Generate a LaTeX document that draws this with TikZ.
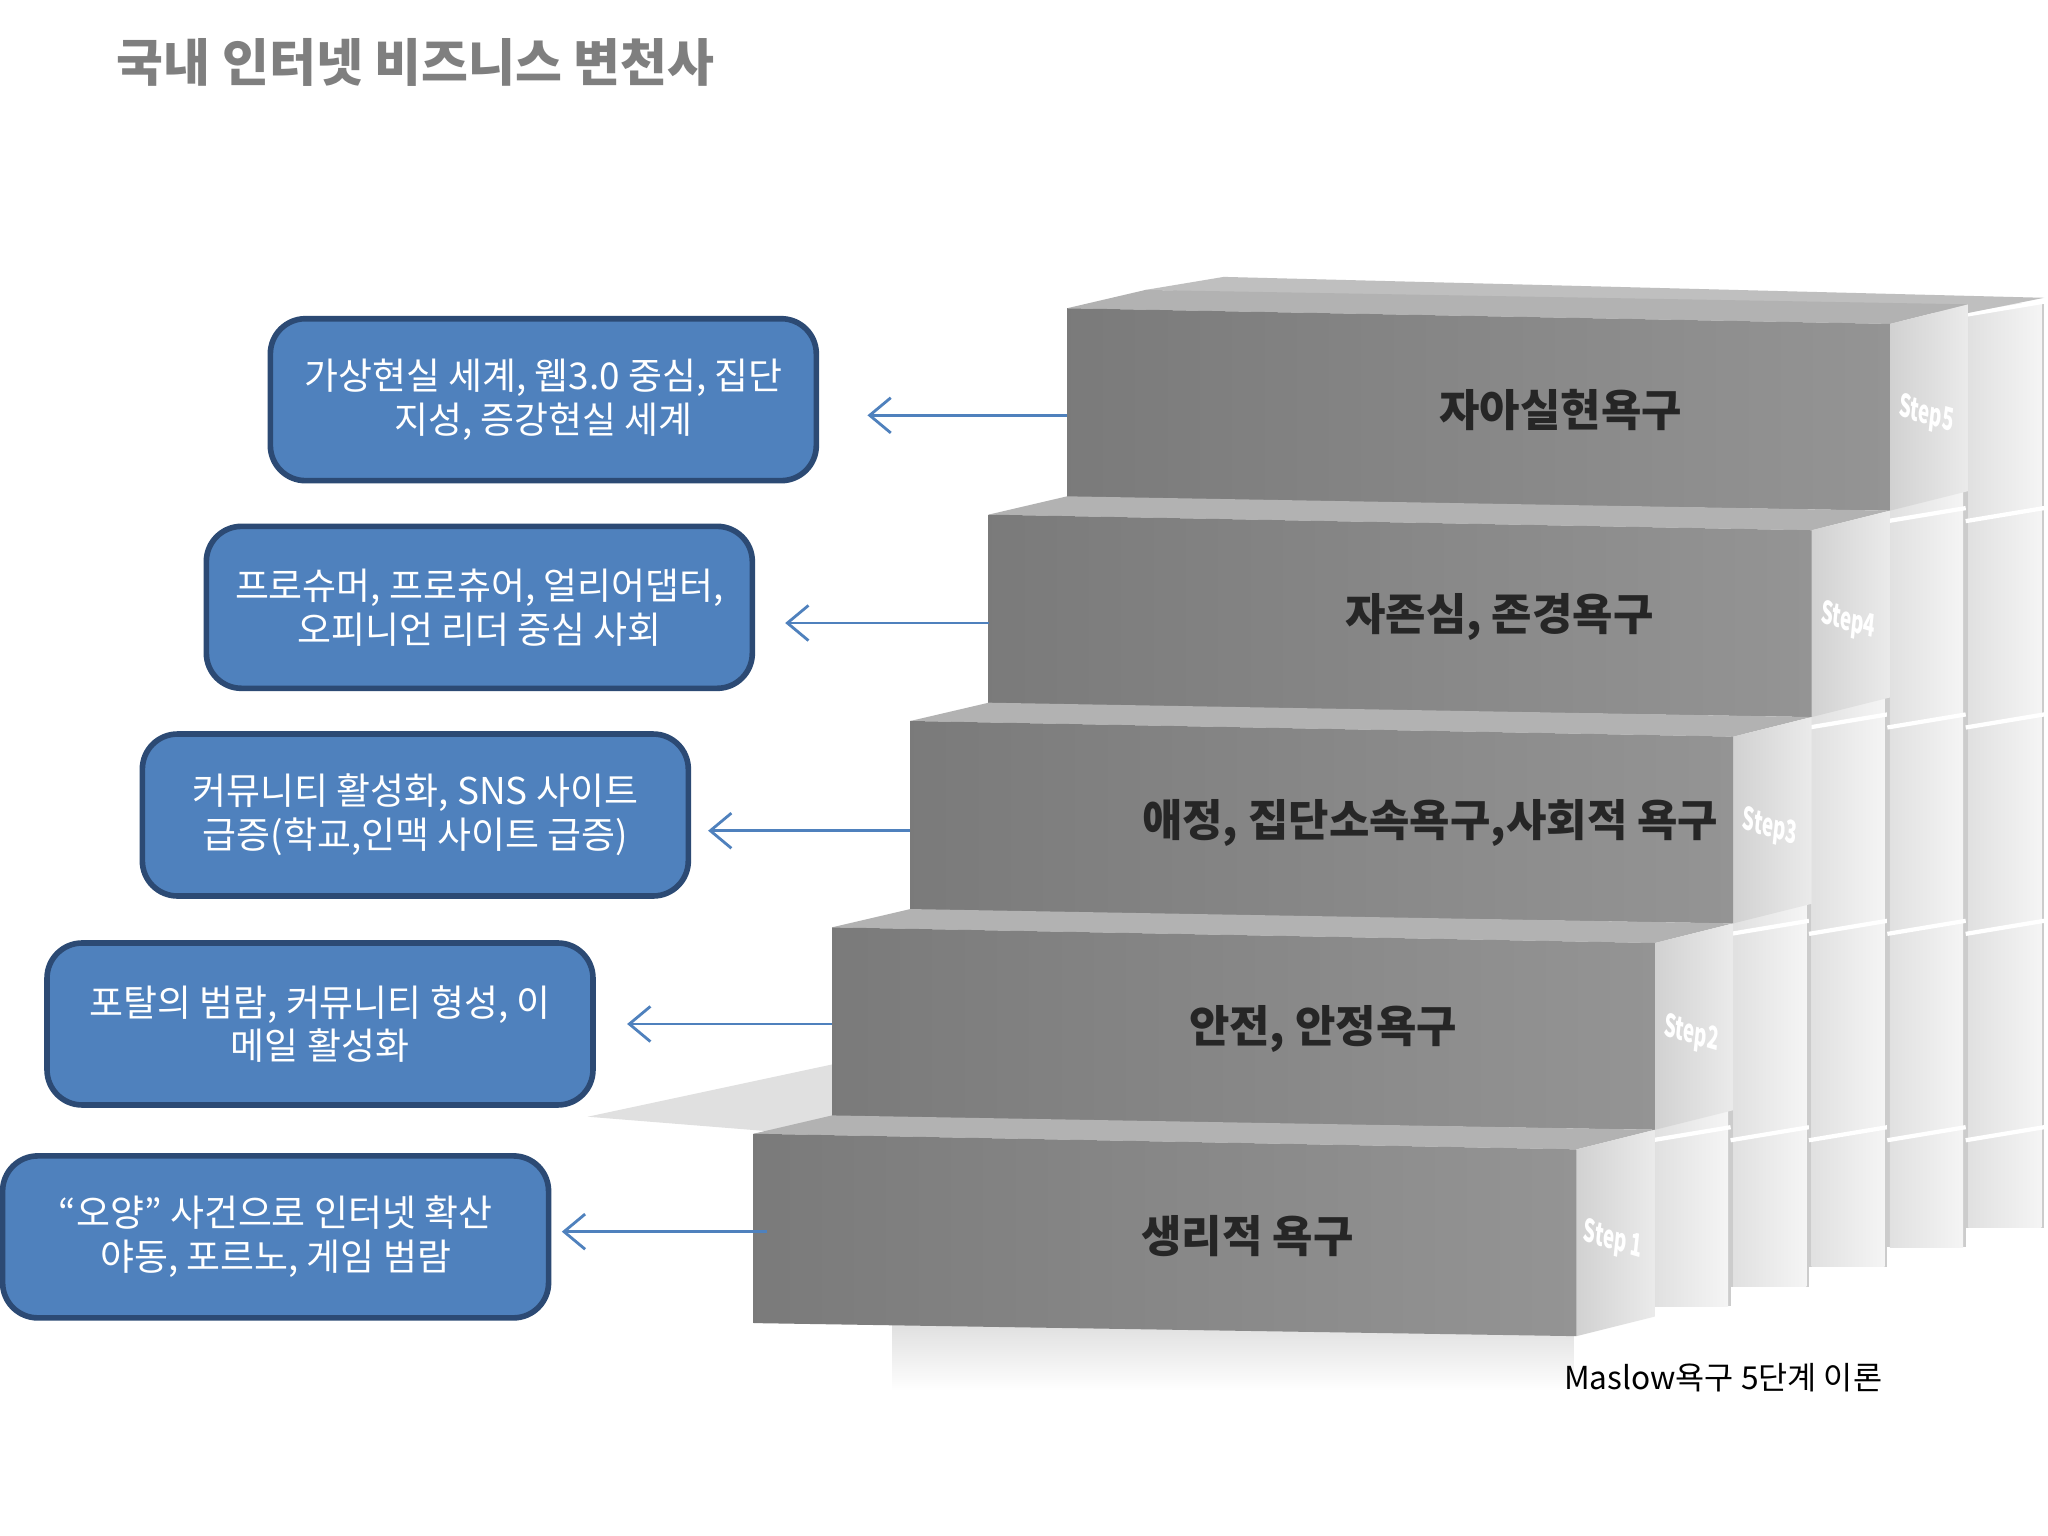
\documentclass[tikz,border=0pt]{standalone}
\usepackage{fontspec}
\setmainfont{Noto Sans CJK KR}
\usetikzlibrary{arrows.meta}
\definecolor{boxblue}{HTML}{4F81BD}
\definecolor{boxedge}{HTML}{2C4A74}
\definecolor{titlegray}{HTML}{7F7F7F}
\tikzset{
 infobox/.style={draw=boxedge,line width=1.6pt,fill=boxblue,rounded corners=10pt,text=white,align=center,font=\fontsize{10.5}{12.5}\selectfont},
 conn/.style={draw=boxblue,line width=0.8pt,-{Straight Barb[length=6pt,width=10pt]}},
 steplabel/.style={font=\bfseries\fontsize{12.5}{14}\selectfont,text=black!85},
 sidelabel/.style={font=\bfseries\fontsize{9}{10}\selectfont,text=white,xscale=0.6},
}
\begin{document}
\begin{tikzpicture}[x=0.013061cm,y=-0.013061cm]
\useasboundingbox (0,0) rectangle (1568,1176);
\fill[white] (0,0) rectangle (1568,1176);
\node[anchor=west,text=titlegray,font=\bfseries\fontsize{14.5}{17}\selectfont] (title) at (80,48) {국내 인터넷 비즈니스 변천사};
% shadows
\fill[black!12] (450,855) -- (637,815) -- (637,870) -- cycle;
\shade[top color=black!12,bottom color=white] (683,1015) rectangle (1205,1065);
% back columns
\foreach \c in {0,...,4}{
  \pgfmathsetmacro\xa{1265+\c*60}
  \pgfmathsetmacro\ytop{max(868-(\c+1)*158+10,232)}
  \pgfmathsetmacro\ybot{1000-\c*15}
  \fill[black!20] (\xa,\ytop) rectangle (\xa+60,\ybot);
  \shade[left color=black!12,right color=black!4] (\xa+2,\ytop) rectangle (\xa+58,\ybot);
  \foreach \r in {0,...,\c}{
    \pgfmathsetmacro\yl{868-\r*158+5}
    \draw[white,line width=1.2pt] (\xa,\yl) -- (\xa+60,\yl-10);
  }
}
\fill[black!25] (877,222) -- (937,212) -- (1565,228) -- (1505,240) -- cycle;
% steps: i=0 bottom
\foreach \i/\lab/\tx/\sl in {4/자아실현욕구/1195/Step5,3/{자존심, 존경욕구}/1148/Step4,2/{애정, 집단소속욕구,사회적 욕구}/1095/Step3,1/{안전, 안정욕구}/1013/Step2,0/{생리적 욕구}/955/Step 1}{
  \pgfmathsetmacro\xl{577+\i*60}
  \pgfmathsetmacro\xr{1207+\i*60}
  \pgfmathsetmacro\yt{868-\i*158}
  \fill[black!30] (\xl,\yt) -- (\xl+60,\yt-14) -- (\xr+60,\yt-3) -- (\xr,\yt+12) -- cycle;
  \shade[left color=black!18,right color=black!8] (\xr,\yt+12) -- (\xr+60,\yt-3) -- (\xr+60,\yt+140) -- (\xr,\yt+155) -- cycle;
  \shade[left color=black!52,right color=black!42] (\xl,\yt) -- (\xr,\yt+12) -- (\xr,\yt+155) -- (\xl,\yt+145) -- cycle;
  \node[steplabel] at (\tx,\yt+78) {\lab};
  \node[sidelabel,rotate=-10] at (\xr+28,\yt+82) {\sl};
}
% boxes
\node[infobox,minimum width=418*0.013061cm,minimum height=124*0.013061cm] (b5) at (416,306) {가상현실 세계, 웹3.0 중심, 집단\\지성, 증강현실 세계};
\node[infobox,minimum width=418*0.013061cm,minimum height=124*0.013061cm] (b4) at (367,465) {프로슈머, 프로츄어, 얼리어댑터,\\오피니언 리더 중심 사회};
\node[infobox,minimum width=418*0.013061cm,minimum height=124*0.013061cm] (b3) at (318,624) {커뮤니티 활성화, SNS 사이트\\급증(학교,인맥 사이트 급증)};
\node[infobox,minimum width=418*0.013061cm,minimum height=124*0.013061cm] (b2) at (245,784) {포탈의 범람, 커뮤니티 형성, 이\\메일 활성화};
\node[infobox,minimum width=418*0.013061cm,minimum height=124*0.013061cm] (b1) at (211,947) {“오양” 사건으로 인터넷 확산\\야동, 포르노, 게임 범람};
\coordinate (s5) at (817,318); \coordinate (s4) at (757,477); \coordinate (s3) at (697,636);
\coordinate (s2) at (637,784); \coordinate (s1) at (587,943);
\draw[conn] (s5) -- ([xshift=37*0.013061cm]b5.east|-s5);
\draw[conn] (s4) -- ([xshift=23*0.013061cm]b4.east|-s4);
\draw[conn] (s3) -- ([xshift=13*0.013061cm]b3.east|-s3);
\draw[conn] (s2) -- ([xshift=24*0.013061cm]b2.east|-s2);
\draw[conn] (s1) -- ([xshift=8*0.013061cm]b1.east|-s1);
\node[anchor=west,font=\fontsize{9}{11}\selectfont] (cap) at (1188,1055) {Maslow욕구 5단계 이론};
\end{tikzpicture}
\end{document}
